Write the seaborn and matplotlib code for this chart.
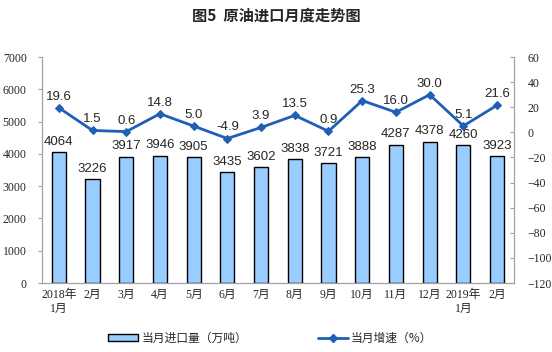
import matplotlib.pyplot as plt
import seaborn as sns
import pandas as pd
from matplotlib.lines import Line2D
from matplotlib.patches import Patch

months = ['2018年\n1月', '2月', '3月', '4月', '5月', '6月', '7月', '8月',
          '9月', '10月', '11月', '12月', '2019年\n1月', '2月']
imports = [4064, 3226, 3917, 3946, 3905, 3435, 3602, 3838, 3721, 3888,
           4287, 4378, 4260, 3923]
growth = [19.6, 1.5, 0.6, 14.8, 5.0, -4.9, 3.9, 13.5, 0.9, 25.3, 16.0,
          30.0, 5.1, 21.6]

df = pd.DataFrame({'month': range(len(months)), 'imports': imports, 'growth': growth})

sns.set_style('white')
plt.rcParams['font.family'] = ['Liberation Serif', 'Noto Sans CJK SC']

bar_color = '#99CCFF'
line_color = '#1F5FB4'
spine_color = '#A0A0A0'

fig = plt.figure(figsize=(5.52, 3.52), dpi=100)
ax = fig.add_axes([0.076, 0.196, 0.855, 0.642])

# 柱状图：当月进口量
sns.barplot(x='month', y='imports', data=df, color=bar_color, width=0.42,
            edgecolor='black', linewidth=1.0, saturation=1, ax=ax)
for i, v in enumerate(imports):
    ax.text(i, v + 130, str(v), ha='center', va='bottom', fontsize=9.5,
            family='Liberation Sans')

ax.set_ylim(0, 7000)
ax.set_yticks(range(0, 7001, 1000))
ax.set_xlim(-0.5, len(months) - 0.5)
ax.set_xticks(range(len(months)))
ax.set_xticklabels(months, fontsize=8.5, linespacing=1.3)
ax.set_xlabel('')
ax.set_ylabel('')
ax.tick_params(axis='y', labelsize=8.5, length=3, color=spine_color, pad=8)
ax.tick_params(axis='x', length=0, pad=4)
# 类别之间的刻度线
ax.set_xticks([i + 0.5 for i in range(len(months) - 1)], minor=True)
ax.tick_params(axis='x', which='minor', length=3, color=spine_color, direction='in')

# 折线图：当月增速
ax2 = ax.twinx()
sns.lineplot(x='month', y='growth', data=df, color=line_color, linewidth=2,
             marker='D', markersize=4.5, markeredgecolor=line_color, ax=ax2)
for i, v in enumerate(growth):
    ax2.text(i, v + 4, f'{v:.1f}', ha='center', va='bottom', fontsize=9.5,
             family='Liberation Sans')
ax2.set_ylim(-120, 60)
ax2.set_yticks(range(-120, 61, 20))
ax2.set_ylabel('')
ax2.tick_params(axis='y', labelsize=8.5, length=3, color=spine_color,
                direction='in', pad=10)

for a in (ax, ax2):
    a.spines['top'].set_visible(False)
    for s in ('left', 'right', 'bottom'):
        a.spines[s].set_color(spine_color)
        a.spines[s].set_linewidth(0.8)

fig.text(0.5, 0.955, '图5  原油进口月度走势图', ha='center', va='center',
         fontsize=11, fontweight='bold', family=['Noto Sans CJK SC'])

handles = [Patch(facecolor=bar_color, edgecolor='black', linewidth=1.0),
           Line2D([0], [0], color=line_color, linewidth=2, marker='D', markersize=4)]
labels = ['当月进口量（万吨）', '当月增速（%）']
fig.legend(handles, labels, loc='center', bbox_to_anchor=(0.49, 0.04), ncol=2,
           frameon=False, columnspacing=6, handlelength=2.5, handletextpad=0.3,
           handleheight=0.5, prop={'family': ['Noto Sans CJK SC'], 'size': 8.5})

plt.savefig('out.png', dpi=100)
